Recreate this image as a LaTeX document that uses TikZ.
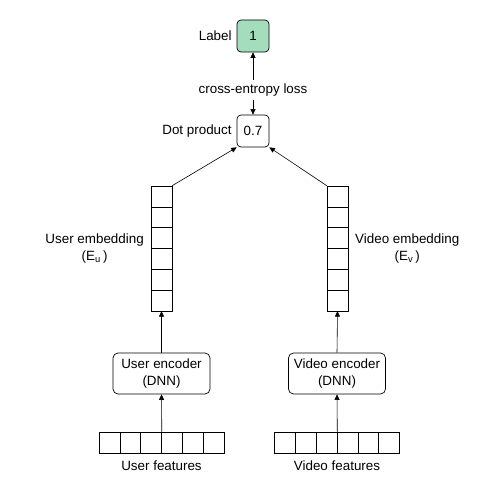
\documentclass[tikz,border=0pt]{standalone}
\usepackage{fontspec}
\setmainfont{Liberation Sans}
\usetikzlibrary{arrows.meta,positioning}
\definecolor{labelgreen}{RGB}{164,221,188}

\begin{document}
\begin{tikzpicture}[x=1pt,y=-1pt,
  font=\fontsize{13.4}{16.5}\selectfont,
  box/.style={draw, rounded corners=4pt, minimum size=32pt, inner sep=0pt, line width=.7pt},
  enc/.style={draw, rounded corners=5pt, minimum width=97pt, minimum height=41pt, align=center, inner sep=0pt, line width=.7pt},
  cell/.style={draw, minimum size=\cellsize, inner sep=0pt, line width=.6pt},
  arr/.style={-{Triangle[length=5.5pt,width=5pt]}, line width=.6pt}]
\def\cellsize{20.8pt}
\useasboundingbox (0,0) rectangle (488,489);

\node[box, fill=labelgreen] (lbl) at (253,36) {1};
\node[left=1.5pt of lbl] (lbltxt) {Label};
\node (loss) at (253,90) {cross-entropy loss};
\node[box] (dot) at (253,131) {0.7};
\node[left=1.5pt of dot] (dottxt) {Dot product};

% embeddings
\foreach \i in {0,...,5} {
  \node[cell] (ue\i) at (161.5,196.4+20.8*\i) {};
  \node[cell] (ve\i) at (337.5,196.4+20.8*\i) {};
}
\node[left=3.5pt of ue2.south west, align=center] (uetxt) {User embedding\\(E\textsubscript{u}\,)};
\node[right=3.5pt of ve2.south east, align=center] (vetxt) {Video embedding\\(E\textsubscript{v}\,)};

\node[enc] (uenc) at (161.5,373.5) {User encoder\\(DNN)};
\node[enc] (venc) at (337,373.5) {Video encoder\\(DNN)};

% features
\foreach \i in {0,...,5} {
  \node[cell] (uf\i) at (109.5+20.8*\i,442.5) {};
  \node[cell] (vf\i) at (285+20.8*\i,442.5) {};
}
\node (uftxt) at (161.5,466) {User features};
\node (vftxt) at (337,466) {Video features};

\draw[arr] (uf2.north east) -- (uenc.south);
\draw[arr] (vf2.north east) -- (venc.south);
\draw[arr] (uenc.north) -- (ue5.south);
\draw[arr] (venc.north) -- (ve5.south);
\draw[arr] (ue0.north east) -- (dot.south west);
\draw[arr] (ve0.north west) -- (dot.south east);
\draw[arr] (loss.south) -- (dot.north);
\draw[arr] (loss.north) -- (lbl.south);
\end{tikzpicture}
\end{document}
